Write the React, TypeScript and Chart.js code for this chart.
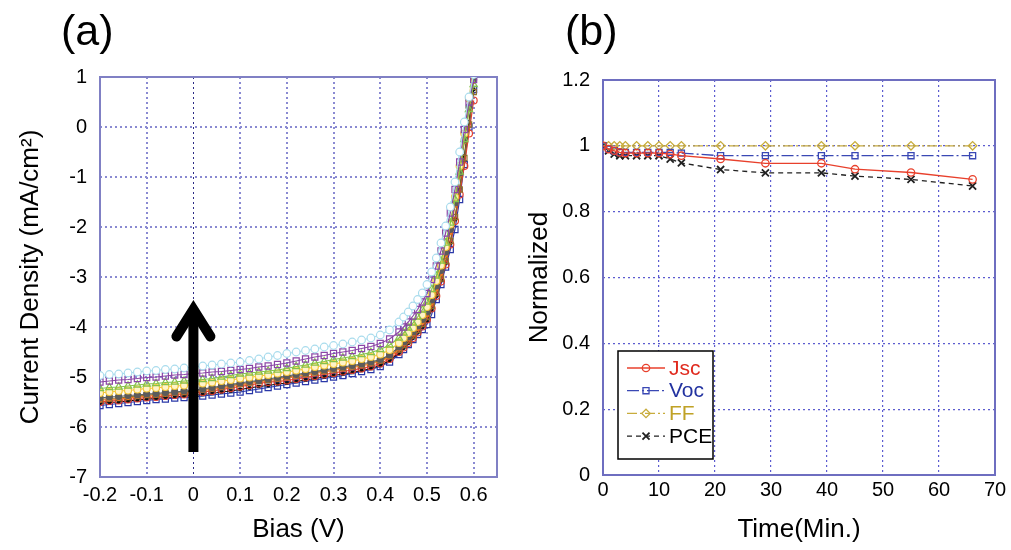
import React, { useEffect, useRef } from 'react';
import { Chart, registerables } from 'chart.js';

Chart.register(...registerables);

const FONT = "'Liberation Sans', Arial, Helvetica, sans-serif";

// ---------------- Panel (a): J-V curves ----------------
const BIAS_V = [-0.20,-0.18,-0.16,-0.14,-0.12,-0.10,-0.08,-0.06,-0.04,-0.02,0.00,0.02,0.04,0.06,0.08,0.10,0.12,0.14,0.16,0.18,0.20,0.22,0.24,0.26,0.28,0.30,0.32,0.34,0.36,0.38,0.40,0.42,0.44,0.45,0.46,0.47,0.48,0.49,0.50,0.51,0.52,0.53,0.54,0.55,0.56,0.57,0.58,0.59,0.60];

const J_CYAN = [-4.97,-4.95,-4.94,-4.92,-4.90,-4.88,-4.87,-4.85,-4.84,-4.82,-4.80,-4.78,-4.76,-4.74,-4.72,-4.70,-4.67,-4.64,-4.60,-4.57,-4.53,-4.50,-4.47,-4.44,-4.40,-4.37,-4.34,-4.30,-4.26,-4.22,-4.16,-4.06,-3.90,-3.80,-3.70,-3.58,-3.45,-3.32,-3.15,-2.90,-2.62,-2.32,-1.98,-1.60,-1.10,-0.50,0.10,0.60,1.05];
const J_PURPLE = [-5.10,-5.08,-5.06,-5.05,-5.03,-5.01,-5.00,-4.98,-4.96,-4.95,-4.93,-4.92,-4.90,-4.89,-4.87,-4.85,-4.83,-4.80,-4.78,-4.75,-4.72,-4.68,-4.64,-4.60,-4.57,-4.53,-4.50,-4.47,-4.43,-4.39,-4.33,-4.24,-4.10,-4.00,-3.90,-3.78,-3.65,-3.50,-3.33,-3.05,-2.78,-2.48,-2.12,-1.72,-1.25,-0.70,-0.05,0.50,0.95];
const J_GREEN = [-5.23,-5.21,-5.20,-5.18,-5.16,-5.14,-5.13,-5.11,-5.10,-5.08,-5.07,-5.05,-5.03,-5.00,-4.97,-4.94,-4.92,-4.90,-4.88,-4.86,-4.83,-4.79,-4.76,-4.72,-4.69,-4.65,-4.62,-4.59,-4.55,-4.51,-4.45,-4.36,-4.22,-4.12,-4.02,-3.92,-3.80,-3.66,-3.50,-3.25,-2.98,-2.68,-2.32,-1.92,-1.45,-0.90,-0.25,0.35,0.85];
const J_YELLOW = [-5.32,-5.30,-5.28,-5.27,-5.25,-5.23,-5.22,-5.20,-5.18,-5.17,-5.15,-5.13,-5.11,-5.08,-5.06,-5.03,-5.01,-4.98,-4.96,-4.93,-4.90,-4.87,-4.84,-4.80,-4.77,-4.74,-4.71,-4.68,-4.64,-4.60,-4.55,-4.46,-4.32,-4.22,-4.12,-4.02,-3.90,-3.76,-3.60,-3.36,-3.08,-2.77,-2.40,-1.95,-1.40,-0.78,-0.13,0.57,1.20];
const J_GRAY = [-5.42,-5.40,-5.39,-5.37,-5.36,-5.34,-5.33,-5.31,-5.30,-5.28,-5.27,-5.24,-5.21,-5.18,-5.15,-5.12,-5.09,-5.07,-5.04,-5.01,-4.98,-4.95,-4.92,-4.89,-4.86,-4.83,-4.80,-4.77,-4.74,-4.70,-4.65,-4.56,-4.40,-4.30,-4.20,-4.10,-3.98,-3.85,-3.70,-3.46,-3.18,-2.87,-2.50,-2.05,-1.52,-0.92,-0.25,0.40,0.95];
const J_ORANGE = [-5.47,-5.45,-5.44,-5.42,-5.40,-5.38,-5.37,-5.35,-5.33,-5.32,-5.30,-5.27,-5.25,-5.22,-5.19,-5.16,-5.13,-5.10,-5.07,-5.05,-5.02,-4.99,-4.96,-4.93,-4.90,-4.87,-4.84,-4.81,-4.78,-4.74,-4.69,-4.60,-4.45,-4.35,-4.25,-4.15,-4.04,-3.91,-3.76,-3.53,-3.25,-2.94,-2.57,-2.12,-1.58,-0.98,-0.30,0.35,0.90];
const J_BROWN = [-5.45,-5.43,-5.42,-5.40,-5.38,-5.36,-5.35,-5.33,-5.31,-5.30,-5.28,-5.25,-5.23,-5.20,-5.17,-5.14,-5.11,-5.08,-5.06,-5.03,-5.00,-4.97,-4.94,-4.91,-4.88,-4.85,-4.82,-4.79,-4.76,-4.72,-4.67,-4.58,-4.45,-4.36,-4.27,-4.17,-4.06,-3.94,-3.80,-3.58,-3.32,-3.03,-2.68,-2.28,-1.80,-1.25,-0.62,0.05,0.70];
const J_RED = [-5.50,-5.48,-5.47,-5.45,-5.43,-5.41,-5.40,-5.38,-5.36,-5.35,-5.33,-5.30,-5.28,-5.25,-5.22,-5.19,-5.16,-5.13,-5.10,-5.09,-5.07,-5.04,-5.01,-4.98,-4.95,-4.92,-4.89,-4.86,-4.83,-4.79,-4.73,-4.64,-4.50,-4.41,-4.32,-4.22,-4.11,-3.99,-3.85,-3.63,-3.38,-3.09,-2.75,-2.35,-1.88,-1.35,-0.78,-0.13,0.53];
const J_BLACK = [-5.53,-5.51,-5.50,-5.48,-5.46,-5.44,-5.43,-5.41,-5.40,-5.38,-5.37,-5.35,-5.33,-5.30,-5.28,-5.25,-5.22,-5.19,-5.17,-5.14,-5.12,-5.09,-5.06,-5.03,-5.00,-4.97,-4.94,-4.91,-4.87,-4.83,-4.77,-4.67,-4.52,-4.42,-4.32,-4.22,-4.11,-4.00,-3.88,-3.66,-3.38,-3.07,-2.72,-2.32,-1.85,-1.25,-0.58,0.10,0.75];
const J_BLUE = [-5.57,-5.55,-5.53,-5.51,-5.49,-5.47,-5.45,-5.44,-5.42,-5.41,-5.40,-5.38,-5.36,-5.34,-5.32,-5.30,-5.27,-5.24,-5.21,-5.18,-5.15,-5.12,-5.09,-5.06,-5.03,-5.00,-4.97,-4.93,-4.89,-4.85,-4.79,-4.70,-4.55,-4.45,-4.35,-4.25,-4.15,-4.05,-3.95,-3.75,-3.45,-3.15,-2.80,-2.45,-2.05,-1.45,-0.75,0.00,0.75];

const X_TICKS_A = [-0.2, -0.1, 0, 0.1, 0.2, 0.3, 0.4, 0.5, 0.6];
const ARROW_X = 0;
const ARROW_FROM_J = -6.5;
const ARROW_TO_J = -3.45;

// ---------------- Panel (b): normalized parameters ----------------
const TIME_MIN = [0, 1, 2, 3, 4, 6, 8, 10, 12, 14, 21, 29, 39, 45, 55, 66];
const JSC_NORM = [1, 0.99, 0.985, 0.98, 0.978, 0.978, 0.978, 0.978, 0.975, 0.97, 0.96, 0.947, 0.947, 0.929, 0.919, 0.898];
const VOC_NORM = [1, 0.99, 0.985, 0.98, 0.98, 0.98, 0.98, 0.98, 0.98, 0.978, 0.97, 0.97, 0.97, 0.97, 0.97, 0.97];
const FF_NORM = [1, 1, 1, 1, 1, 1, 1, 1, 1, 1, 1, 1, 1, 1, 1, 1];
const PCE_NORM = [1, 0.985, 0.975, 0.97, 0.97, 0.97, 0.97, 0.97, 0.96, 0.948, 0.928, 0.918, 0.918, 0.908, 0.898, 0.878];

const fmt = (v: any) => String(Number(Number(v).toFixed(1)));

function pts(xs: number[], ys: number[]) {
  return xs.map((x, i) => ({ x, y: ys[i] }));
}

const framePlugin = (color: string, width: number) => ({
  id: 'frame',
  beforeDatasetsDraw(chart: any) {
    const { ctx, chartArea } = chart;
    ctx.save();
    ctx.strokeStyle = color;
    ctx.lineWidth = width;
    ctx.setLineDash([]);
    ctx.strokeRect(chartArea.left, chartArea.top, chartArea.right - chartArea.left, chartArea.bottom - chartArea.top);
    ctx.restore();
  },
});

const arrowPlugin = {
  id: 'arrow',
  afterDatasetsDraw(chart: any) {
    const { ctx } = chart;
    const xs = chart.scales.x;
    const ys = chart.scales.y;
    const x = xs.getPixelForValue(ARROW_X);
    const yb = ys.getPixelForValue(ARROW_FROM_J);
    const yt = ys.getPixelForValue(ARROW_TO_J);
    ctx.save();
    ctx.strokeStyle = '#000';
    ctx.lineWidth = 10;
    ctx.setLineDash([]);
    ctx.lineCap = 'butt';
    ctx.beginPath();
    ctx.moveTo(x, yb);
    ctx.lineTo(x, yt + 12);
    ctx.stroke();
    ctx.lineCap = 'round';
    ctx.lineJoin = 'miter';
    ctx.beginPath();
    ctx.moveTo(x - 17, yt + 37);
    ctx.lineTo(x, yt + 10);
    ctx.lineTo(x + 17, yt + 37);
    ctx.stroke();
    ctx.restore();
  },
};

const legendPlugin = {
  id: 'customLegend',
  afterDatasetsDraw(chart: any) {
    const { ctx, chartArea } = chart;
    const left = chartArea.left + 15;
    const w = 95;
    const h = 108;
    const top = chartArea.bottom - 16 - h;
    ctx.save();
    ctx.fillStyle = '#fff';
    ctx.fillRect(left, top, w, h);
    ctx.strokeStyle = '#000';
    ctx.lineWidth = 1.5;
    ctx.setLineDash([]);
    ctx.strokeRect(left, top, w, h);
    const order = [0, 1, 2, 3];
    order.forEach((di, row) => {
      const ds = chart.data.datasets[di];
      const y = top + 17 + row * 22.7;
      ctx.save();
      ctx.strokeStyle = ds.borderColor;
      ctx.lineWidth = ds.borderWidth;
      ctx.setLineDash(ds.borderDash || []);
      ctx.beginPath();
      ctx.moveTo(left + 9, y);
      ctx.lineTo(left + 47, y);
      ctx.stroke();
      ctx.restore();
      const meta = chart.getDatasetMeta(di);
      const el = meta.data[0];
      if (el) {
        const saveX = el.x, saveY = el.y;
        el.x = left + 28; el.y = y;
        el.draw(ctx, undefined);
        el.x = saveX; el.y = saveY;
      }
      ctx.fillStyle = ds.legendColor;
      ctx.font = `21px ${FONT}`;
      ctx.textBaseline = 'middle';
      ctx.textAlign = 'left';
      ctx.fillText(ds.label, left + 51, y + 1);
    });
    ctx.restore();
  },
};

const SERIES_A = [
  { data: J_CYAN, color: '#a9dced', bg: '#ffffff', style: 'circle', r: 3.8 },
  { data: J_PURPLE, color: '#8a46a6', bg: 'rgba(0,0,0,0)', style: 'rect', r: 4.3 },
  { data: J_GREEN, color: '#86c24a', bg: 'rgba(0,0,0,0)', style: 'triangle', r: 4.2 },
  { data: J_YELLOW, color: '#f2c63a', bg: '#fff3c8', style: 'circle', r: 3.5 },
  { data: J_GRAY, color: '#5c5c5c', bg: '#5c5c5c', style: 'circle', r: 3 },
  { data: J_ORANGE, color: '#f07a22', bg: '#f07a22', style: 'circle', r: 1.5 },
  { data: J_BROWN, color: '#8e6e2a', bg: 'rgba(0,0,0,0)', style: 'rect', r: 3.8 },
  { data: J_RED, color: '#e4402e', bg: 'rgba(0,0,0,0)', style: 'circle', r: 3.5 },
  { data: J_BLACK, color: '#111111', bg: '#111111', style: 'rect', r: 1.6 },
  { data: J_BLUE, color: '#2a38a8', bg: 'rgba(0,0,0,0)', style: 'rect', r: 4.3 },
];

export default function App() {
  const refA = useRef<HTMLCanvasElement>(null);
  const refB = useRef<HTMLCanvasElement>(null);

  useEffect(() => {
    const chartA = new Chart(refA.current as HTMLCanvasElement, {
      type: 'scatter',
      data: {
        datasets: SERIES_A.map((s, i) => ({
          label: 'J' + i,
          data: pts(BIAS_V, s.data),
          showLine: true,
          borderColor: s.color,
          borderWidth: 1.2,
          pointStyle: s.style as any,
          pointRadius: s.r,
          pointBorderColor: s.color,
          pointBackgroundColor: s.bg,
          pointBorderWidth: 1.2,
          tension: 0,
        })),
      },
      options: {
        animation: false,
        responsive: false,
        maintainAspectRatio: false,
        layout: { padding: { top: 77, right: 8, left: 0, bottom: 0 } },
        plugins: { legend: { display: false }, tooltip: { enabled: false } },
        scales: {
          x: {
            type: 'linear',
            min: -0.2,
            max: 0.65,
            afterBuildTicks: (axis: any) => { axis.ticks = X_TICKS_A.map((v) => ({ value: v })); },
            afterFit: (axis: any) => { axis.height = 73; },
            ticks: { callback: (v: any) => fmt(v), color: '#000', font: { family: FONT, size: 20 }, padding: 6, maxRotation: 0, autoSkip: false },
            grid: {
              color: (c: any) => (c.tick && c.tick.value === 0 ? '#2c2c86' : '#8a8ad2'),
              lineWidth: (c: any) => (c.tick && c.tick.value === 0 ? 1 : 2),
              drawTicks: false,
            },
            border: { display: false, dash: [2, 3] },
            title: { display: true, text: 'Bias (V)', color: '#000', font: { family: FONT, size: 26 }, padding: { top: 0, bottom: 5 } },
          },
          y: {
            type: 'linear',
            min: -7,
            max: 1,
            ticks: { stepSize: 1, callback: (v: any) => fmt(v), color: '#000', font: { family: FONT, size: 20 }, padding: 13 },
            afterFit: (axis: any) => { axis.width = 100; },
            grid: { color: '#8a8ad2', lineWidth: 2, drawTicks: false },
            border: { display: false, dash: [2, 3] },
            title: { display: true, text: 'Current Density (mA/cm²)', color: '#000', font: { family: FONT, size: 26 }, padding: { top: 15, bottom: 0 } },
          },
        },
      } as any,
      plugins: [framePlugin('#8080c4', 2), arrowPlugin],
    });

    const chartB = new Chart(refB.current as HTMLCanvasElement, {
      type: 'scatter',
      data: {
        datasets: [
          {
            label: 'Jsc', legendColor: '#e02a1e',
            data: pts(TIME_MIN, JSC_NORM), showLine: true,
            borderColor: '#e8402c', borderWidth: 1.3, borderDash: [],
            pointStyle: 'circle', pointRadius: 3.7, pointBorderColor: '#e8402c', pointBackgroundColor: 'rgba(0,0,0,0)', pointBorderWidth: 1.3,
          },
          {
            label: 'Voc', legendColor: '#2232a0',
            data: pts(TIME_MIN, VOC_NORM), showLine: true,
            borderColor: '#3a48b4', borderWidth: 1.3, borderDash: [12, 3, 2, 3],
            pointStyle: 'rect', pointRadius: 4.3, pointBorderColor: '#3a48b4', pointBackgroundColor: 'rgba(0,0,0,0)', pointBorderWidth: 1.3,
          },
          {
            label: 'FF', legendColor: '#c0a226',
            data: pts(TIME_MIN, FF_NORM), showLine: true,
            borderColor: '#c8ac3c', borderWidth: 1.3, borderDash: [10, 3, 2, 3],
            pointStyle: 'rectRot', pointRadius: 4.2, pointBorderColor: '#c8ac3c', pointBackgroundColor: 'rgba(0,0,0,0)', pointBorderWidth: 1.3,
          },
          {
            label: 'PCE', legendColor: '#000',
            data: pts(TIME_MIN, PCE_NORM), showLine: true,
            borderColor: '#222', borderWidth: 1.3, borderDash: [5, 4],
            pointStyle: 'crossRot', pointRadius: 5, pointBorderColor: '#222', pointBackgroundColor: 'rgba(0,0,0,0)', pointBorderWidth: 1.8,
          },
        ] as any,
      },
      options: {
        animation: false,
        responsive: false,
        maintainAspectRatio: false,
        layout: { padding: { top: 80, right: 16, left: 0, bottom: 0 } },
        plugins: { legend: { display: false }, tooltip: { enabled: false } },
        scales: {
          x: {
            type: 'linear',
            min: 0,
            max: 70,
            ticks: { stepSize: 10, color: '#000', font: { family: FONT, size: 20 }, padding: 3, maxRotation: 0, autoSkip: false },
            afterFit: (axis: any) => { axis.height = 75; },
            grid: { color: '#5c5cd0', lineWidth: 1.2, drawTicks: false },
            border: { display: false, dash: [2, 3] },
            title: { display: true, text: 'Time(Min.)', color: '#000', font: { family: FONT, size: 26 }, padding: { top: 0, bottom: 5 } },
          },
          y: {
            type: 'linear',
            min: 0,
            max: 1.2,
            ticks: { stepSize: 0.2, callback: (v: any) => fmt(v), color: '#000', font: { family: FONT, size: 20 }, padding: 13 },
            afterFit: (axis: any) => { axis.width = 98; },
            grid: { color: '#5c5cd0', lineWidth: 1.2, drawTicks: false },
            border: { display: false, dash: [2, 3] },
            title: { display: true, text: 'Normalized', color: '#000', font: { family: FONT, size: 26 }, padding: { top: 19, bottom: 0 } },
          },
        },
      } as any,
      plugins: [framePlugin('#6e6ec0', 2), legendPlugin],
    });

    return () => {
      chartA.destroy();
      chartB.destroy();
    };
  }, []);

  const labelStyle: React.CSSProperties = {
    position: 'absolute',
    fontFamily: FONT,
    fontSize: 43,
    lineHeight: 1,
    color: '#000',
    margin: 0,
  };

  return (
    <div style={{ position: 'absolute', left: 0, top: 0, width: 1011, height: 550, background: '#fff', overflow: 'hidden' }}>
      <canvas ref={refA} width={505} height={550} style={{ position: 'absolute', left: 0, top: 0, width: 505, height: 550 }} />
      <canvas ref={refB} width={506} height={550} style={{ position: 'absolute', left: 505, top: 0, width: 506, height: 550 }} />
      <div style={{ ...labelStyle, left: 61, top: 9 }}>(a)</div>
      <div style={{ ...labelStyle, left: 565, top: 9 }}>(b)</div>
    </div>
  );
}
